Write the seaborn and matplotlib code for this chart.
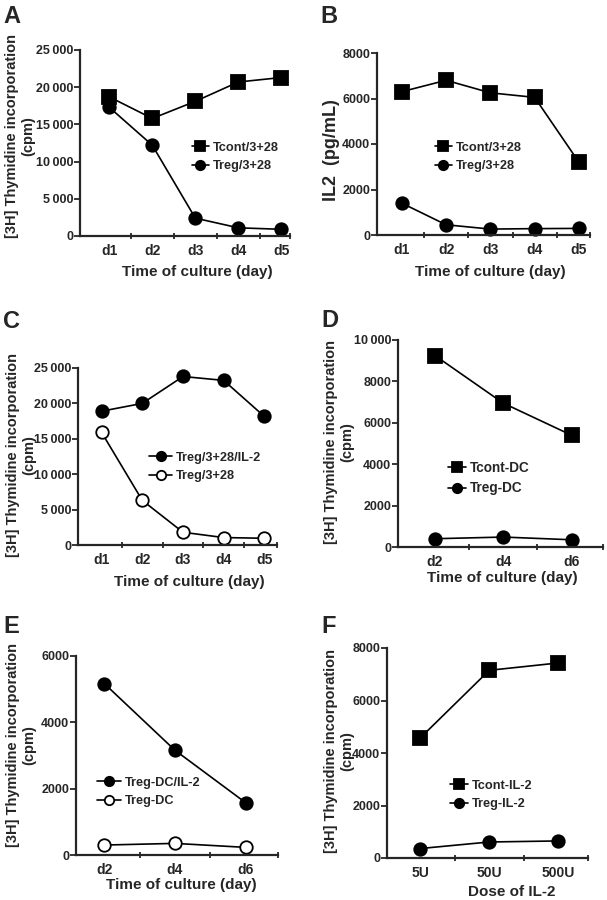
import numpy as np
import pandas as pd
import matplotlib
matplotlib.use("Agg")
import matplotlib.pyplot as plt
import seaborn as sns
from matplotlib.ticker import FixedLocator, FuncFormatter

# ---- data ----
DAYS5 = ["d1", "d2", "d3", "d4", "d5"]
DAYS3 = ["d2", "d4", "d6"]
DOSES = ["5U", "50U", "500U"]

A_TCONT = [18700, 15800, 18100, 20700, 21300]
A_TREG = [17300, 12200, 2400, 1100, 900]

B_TCONT = [6300, 6800, 6250, 6050, 3200]
B_TREG = [1400, 450, 260, 280, 290]

C_TREG_IL2 = [18900, 20000, 23800, 23250, 18150]
C_TREG = [15900, 6300, 1800, 1050, 950]

D_TCONT = [9250, 6950, 5400]
D_TREG = [400, 480, 350]

E_TREG_IL2 = [5170, 3160, 1580]
E_TREG = [300, 350, 230]

F_TCONT = [4570, 7150, 7430]
F_TREG = [360, 610, 650]

W, H = 607, 900
YLAB_CPM = "[3H] Thymidine incorporation\n(cpm)"
XLAB_DAY = "Time of culture (day)"

sns.set_style("ticks")
plt.rcParams["font.family"] = ["Liberation Sans", "DejaVu Sans"]
plt.rcParams["font.weight"] = "bold"
plt.rcParams["axes.labelweight"] = "bold"


def fx(px):
    return px / W


def fy(py):
    return 1 - py / H


def space_fmt(min_val):
    def f(v, pos):
        v = int(round(v))
        if v >= min_val:
            return f"{v:,}".replace(",", "\u2009")
        return str(v)
    return FuncFormatter(f)


def panel(fig, rect, cats, series, ymax, ystep, xlim, fmt_min, letter, letter_xy,
          xlabel, xlab_xy, ylabel, ylab_xy, leg_xy, handlelen,
          ylab_size=10.5, leg_size=9.2):
    l, r, t, b = rect
    ax = fig.add_axes([fx(l), fy(b), fx(r - l), (b - t) / H])
    pos = np.arange(len(cats))
    for label, vals, marker, filled, ms in series:
        df = pd.DataFrame({"x": pos, "y": vals})
        sns.lineplot(data=df, x="x", y="y", ax=ax, color="black", linewidth=1.2,
                     marker=marker, markersize=ms, markeredgecolor="black",
                     markerfacecolor="black" if filled else "white",
                     markeredgewidth=1.3, label=label, clip_on=False)
    ax.set_xlim(*xlim)
    ax.set_ylim(0, ymax)
    sns.despine(ax=ax)
    for s in ("left", "bottom"):
        ax.spines[s].set_linewidth(1.6)
    ax.set_xticks(pos)
    ax.set_xticklabels(cats, fontsize=10, fontweight="bold")
    ax.xaxis.set_minor_locator(FixedLocator(list(pos[:-1] + 0.5) + [xlim[1]]))
    ax.tick_params(axis="x", which="major", length=0, pad=6)
    ax.tick_params(axis="x", which="minor", length=4, width=1.3, direction="inout")
    ax.set_yticks(np.arange(0, ymax + 1, ystep))
    ax.yaxis.set_major_formatter(space_fmt(fmt_min))
    ax.tick_params(axis="y", length=4, width=1.3, labelsize=9, pad=1)
    for lab in ax.get_yticklabels():
        lab.set_fontweight("bold")

    ax.set_xlabel(xlabel, fontsize=11, fontweight="bold", va="center")
    ax.xaxis.set_label_coords(fx(xlab_xy[0]), fy(xlab_xy[1]), transform=fig.transFigure)
    ax.set_ylabel(ylabel, fontsize=ylab_size, fontweight="bold", va="center",
                  linespacing=1.15)
    ax.yaxis.set_label_coords(fx(ylab_xy[0]), fy(ylab_xy[1]), transform=fig.transFigure)

    ax.legend(loc="center left", bbox_to_anchor=(fx(leg_xy[0]), fy(leg_xy[1])),
              bbox_transform=fig.transFigure, frameon=False,
              handlelength=handlelen, handletextpad=0.3, borderpad=0,
              borderaxespad=0, labelspacing=0.5, markerscale=0.75,
              prop={"weight": "bold", "size": leg_size})

    fig.text(fx(letter_xy[0]), fy(letter_xy[1]), letter, fontsize=17,
             fontweight="bold", ha="left", va="baseline")
    return ax


fig = plt.figure(figsize=(W / 100, H / 100), dpi=100)

panel(fig, (80, 290, 50, 236), DAYS5,
      [("Tcont/3+28", A_TCONT, "s", True, 9.5), ("Treg/3+28", A_TREG, "o", True, 9)],
      25000, 5000, (-0.68, 4.2), 1000, "A", (3, 23),
      XLAB_DAY, (197, 272), YLAB_CPM, (20, 136), (192, 157), 1.3)

panel(fig, (377, 590, 53, 235), DAYS5,
      [("Tcont/3+28", B_TCONT, "s", True, 9.5), ("Treg/3+28", B_TREG, "o", True, 9)],
      8000, 2000, (-0.56, 4.25), 10 ** 9, "B", (320, 23),
      XLAB_DAY, (490, 272), "IL2  (pg/mL)", (332, 150), (435, 157), 1.3,
      ylab_size=13)

panel(fig, (78, 277, 368, 545), DAYS5,
      [("Treg/3+28/IL-2", C_TREG_IL2, "o", True, 9), ("Treg/3+28", C_TREG, "o", False, 9)],
      25000, 5000, (-0.58, 4.31), 1000, "C", (3, 328),
      XLAB_DAY, (189, 582), YLAB_CPM, (21, 455), (149, 467), 1.8)

panel(fig, (398, 603, 340, 547), DAYS3,
      [("Tcont-DC", D_TCONT, "s", True, 9.5), ("Treg-DC", D_TREG, "o", True, 9)],
      10000, 2000, (-0.54, 2.46), 10000, "D", (321, 327),
      XLAB_DAY, (502, 578), YLAB_CPM, (339, 442), (448, 478), 1.3,
      leg_size=9.8)

panel(fig, (76, 278, 656, 855), DAYS3,
      [("Treg-DC/IL-2", E_TREG_IL2, "o", True, 9), ("Treg-DC", E_TREG, "o", False, 9)],
      6000, 2000, (-0.4, 2.46), 10 ** 9, "E", (3, 633),
      XLAB_DAY, (181, 885), YLAB_CPM, (21, 745), (97, 792), 1.9)

panel(fig, (387, 588, 648, 858), DOSES,
      [("Tcont-IL-2", F_TCONT, "s", True, 9.5), ("Treg-IL-2", F_TREG, "o", True, 9)],
      8000, 2000, (-0.48, 2.43), 10 ** 9, "F", (321, 633),
      "Dose of IL-2", (512, 892), YLAB_CPM, (339, 751), (450, 795), 1.4)

fig.savefig("out.png", dpi=100, facecolor="white")
